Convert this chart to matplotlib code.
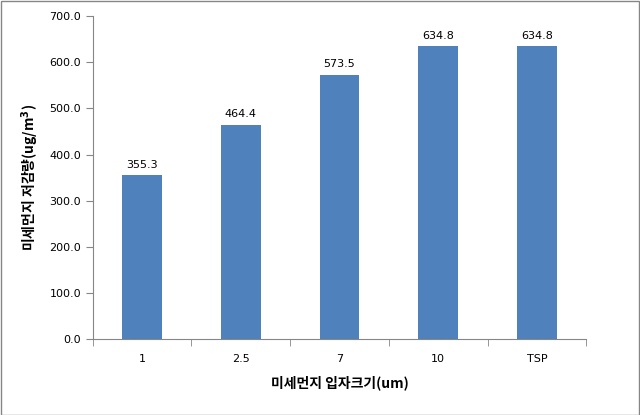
import matplotlib.pyplot as plt
import numpy as np

plt.rcParams['font.family'] = ['Noto Sans CJK KR', 'DejaVu Sans']

# Data
sizes = ["1", "2.5", "7", "10", "TSP"]
reduction = [355.3, 464.4, 573.5, 634.8, 634.8]

fig = plt.figure(figsize=(6.4, 4.15), dpi=100)
ax = fig.add_axes([0.145, 0.183, 0.771, 0.778])

x = np.arange(len(sizes))
ax.bar(x, reduction, width=0.4, color="#4F81BD")

num_font = {"family": "DejaVu Sans", "size": 8}
for xi, v in zip(x, reduction):
    ax.text(xi, v + 12, f"{v:.1f}", ha="center", va="bottom", fontdict=num_font)

ax.set_xlim(-0.5, len(sizes) - 0.5)
ax.set_ylim(0, 700)
ax.set_yticks(np.arange(0, 701, 100))
ax.set_yticklabels([f"{t:.1f}" for t in np.arange(0, 701, 100)], fontdict=num_font)
ax.set_xticks(x)
ax.set_xticklabels(sizes, fontdict=num_font)
ax.set_xticks(np.arange(-0.5, len(sizes), 1), minor=True)
ax.tick_params(axis="x", which="major", length=0, pad=11)
ax.tick_params(axis="x", which="minor", length=5, color="#868686")
ax.tick_params(axis="y", length=5, color="#868686")

for s in ["top", "right"]:
    ax.spines[s].set_visible(False)
for s in ["left", "bottom"]:
    ax.spines[s].set_color("#868686")

ax.set_xlabel("미세먼지 입자크기(um)", fontsize=10, fontweight="bold", labelpad=8)
ax.set_ylabel("미세먼지 저감량(ug/m$\\mathbf{^3}$)", fontsize=10, fontweight="bold", labelpad=6)

# outer border
fig.patches.append(plt.Rectangle((0.001, 0.001), 0.997, 0.997, transform=fig.transFigure,
                                 fill=False, edgecolor="#868686", linewidth=1))

plt.savefig("out.png", dpi=100)
